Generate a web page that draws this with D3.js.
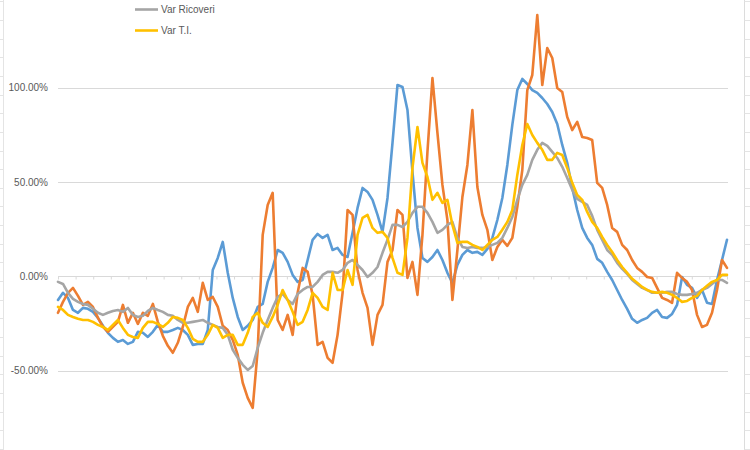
<!DOCTYPE html>
<html>
<head>
<meta charset="utf-8">
<script src="https://cdn.jsdelivr.net/npm/d3@7"></script>
<style>
  body { margin: 0; background: #fff; }
  svg { display: block; font-family: "Liberation Sans", Arial, sans-serif; }
</style>
</head>
<body>
<svg id="chart" width="750" height="450"></svg>
<script>
// values in %, one every ~2 days
const varBlu = [
  -12.5, -8.7, -11.4, -17.8, -19.3, -16.7, -17.2, -18.8, -22.0, -26.2,
  -29.9, -32.6, -34.7, -33.7, -35.8, -34.7, -29.4, -29.9, -32.1, -29.4,
  -25.7, -29.4, -29.4, -28.4, -27.3, -28.4, -31.0, -36.3, -35.8, -35.8,
  -28.4, 3.4, 9.8, 18.3, 1.9, -11.4, -21.5, -28.4, -26.2, -23.1,
  -16.2, -14.6, -2.9, 4.5, 14.0, 12.5, 7.7, 0.8, -2.9, -1.9,
  8.7, 19.4, 22.5, 20.4, 22.0, 14.0, 15.1, 11.4, 10.3, 23.1,
  36.3, 46.9, 44.8, 40.6, 32.6, 23.6, 41.6, 70.8, 101.5, 100.4,
  88.2, 55.4, 25.7, 9.8, 7.7, 10.3, 14.0, 8.7, 1.9, -3.4,
  6.1, 11.4, 14.0, 12.5, 13.0, 11.4, 14.6, 20.4, 29.9, 41.6,
  59.1, 80.3, 98.8, 104.7, 102.0, 98.8, 97.3, 94.6, 91.4, 87.2,
  80.8, 69.7, 60.2, 46.9, 35.2, 25.7, 20.4, 16.7, 9.3, 7.2,
  2.4, -1.9, -7.2, -12.5, -17.2, -22.5, -24.6, -23.1, -22.0, -19.3,
  -17.8, -21.5, -22.0, -19.9, -15.1, -0.3, -4.5, -6.1, -11.4, -7.2,
  -14.0, -14.6, -1.9, 8.7, 19.4
];
const varArancio = [
  -19.3, -13.5, -8.7, -6.1, -10.3, -15.1, -13.5, -16.2, -22.0, -26.8,
  -29.4, -26.8, -24.1, -15.1, -24.6, -19.3, -25.2, -19.3, -20.9, -14.6,
  -24.1, -31.5, -36.8, -40.5, -35.2, -26.8, -16.2, -11.4, -18.8, -3.4,
  -12.5, -10.9, -16.2, -26.2, -28.4, -33.7, -41.6, -56.4, -64.4, -69.7,
  -38.9, 22.0, 37.9, 44.3, -23.1, -28.4, -20.4, -31.0, -8.7, 4.5,
  2.4, -9.8, -36.3, -34.7, -43.2, -45.8, -31.0, -8.7, 35.2, 32.6,
  3.4, -8.7, -16.7, -36.3, -20.4, -15.1, 7.7, 14.0, 35.2, 32.6,
  -0.8, 7.7, -9.8, 22.0, 66.0, 105.2, 76.1, 48.5, 29.9, -12.5,
  14.0, 42.1, 59.1, 88.2, 47.4, 32.6, 24.7, 8.7, 15.6, 19.4,
  16.2, 20.4, 36.9, 56.4, 98.8, 106.8, 138.6, 101.5, 121.1, 115.8,
  99.9, 97.8, 84.5, 77.6, 81.9, 73.9, 73.4, 72.3, 49.6, 46.9,
  37.9, 25.7, 23.6, 16.7, 14.0, 8.7, 4.5, 2.4, -0.3, -0.8,
  -6.1, -11.4, -12.5, -14.0, 1.9, -0.8, -2.9, -7.2, -20.4, -26.8,
  -25.7, -19.3, -7.2, 8.7, 4.5
];
const varRicoveri = [
  -2.9, -4.0, -8.7, -11.9, -13.5, -14.6, -15.1, -17.2, -19.3, -20.4,
  -19.3, -18.3, -17.8, -18.8, -16.7, -20.4, -21.5, -20.9, -18.3, -16.7,
  -17.8, -18.8, -20.4, -20.9, -23.1, -24.6, -24.6, -24.1, -23.6, -23.1,
  -24.6, -25.7, -26.8, -27.3, -31.0, -38.9, -43.2, -46.9, -49.6, -47.5,
  -37.9, -29.9, -23.1, -16.7, -10.9, -9.3, -12.5, -14.6, -9.3, -7.2,
  -5.6, -5.6, -2.9, 0.8, 2.4, 2.4, 1.9, 3.4, 7.2, 8.7,
  6.1, 3.4, -0.3, 1.9, 5.0, 12.5, 19.4, 27.3, 27.3, 26.2,
  28.9, 33.7, 36.9, 36.9, 33.7, 28.9, 23.1, 24.7, 27.3, 28.9,
  20.4, 15.6, 15.1, 15.6, 15.1, 15.1, 15.6, 16.7, 17.8, 20.4,
  25.7, 31.5, 40.6, 48.5, 53.8, 61.8, 67.1, 70.8, 69.2, 66.0,
  62.8, 58.1, 52.2, 45.9, 41.1, 39.5, 37.9, 32.1, 24.7, 19.4,
  14.0, 11.4, 7.2, 4.0, 1.3, -1.9, -4.0, -6.1, -7.2, -8.7,
  -8.7, -8.7, -8.2, -8.2, -9.3, -9.8, -9.8, -9.3, -8.7, -7.2,
  -6.1, -4.0, -1.9, -1.9, -3.4
];
const varTI = [
  -16.2, -17.8, -20.4, -21.5, -22.5, -23.1, -23.1, -24.1, -25.7, -26.8,
  -28.4, -25.7, -23.1, -27.3, -31.0, -32.1, -32.6, -27.3, -24.1, -24.1,
  -25.2, -26.8, -24.6, -21.5, -22.0, -23.1, -27.3, -33.1, -34.7, -34.7,
  -31.0, -25.7, -27.3, -32.6, -31.0, -31.0, -36.3, -36.3, -29.9, -21.5,
  -19.3, -24.6, -26.8, -21.5, -15.1, -7.2, -12.5, -18.8, -25.7, -24.1,
  -17.8, -8.7, -11.4, -16.2, -17.8, 1.9, -7.2, -7.2, 3.4, -4.5,
  22.0, 31.0, 32.6, 25.7, 23.1, 23.6, 20.4, 9.8, 1.9, 0.8,
  20.4, 57.5, 79.2, 60.2, 52.7, 40.6, 44.3, 39.0, 40.6, 27.3,
  17.8, 18.3, 18.3, 16.7, 15.6, 14.0, 16.7, 19.4, 20.9, 24.7,
  28.9, 35.2, 53.8, 69.7, 80.8, 75.0, 70.8, 67.1, 61.8, 61.8,
  65.5, 64.4, 57.5, 49.6, 43.2, 40.6, 34.2, 28.9, 25.7, 20.9,
  16.7, 13.0, 8.7, 5.0, 1.9, -1.3, -3.4, -5.6, -7.2, -8.2,
  -8.7, -8.2, -8.7, -9.8, -11.4, -13.5, -13.0, -11.4, -10.3, -7.2,
  -5.0, -2.9, -1.9, 0.8, 0.8
];

const seriesNames = ["Var Casi", "Var Decessi", "Var Ricoveri", "Var T.I."];
const seriesColors = ["#5b9bd5", "#ed7d31", "#a5a5a5", "#ffc000"];
const seriesValues = [varBlu, varArancio, varRicoveri, varTI];
const yGrid = [-100, -50, 0, 50, 100, 150];
const yLabels = [-50, 0, 50, 100];   // the ones inside the visible window
const weekCount = 38; // category tick marks on the axis

const svg = d3.select("#chart");
const width = 750, height = 450;
const left = 58, right = 727;

const x = d3.scaleLinear().domain([0, varTI.length - 1]).range([left, right]);
const xWeeks = d3.scaleLinear().domain([0, weekCount]).range([left, right]);
const y = d3.scaleLinear().domain([-100, 150]).range([465, -6.5]);

// spreadsheet cells peeking out at the edges
const rows = d3.range(0, 25).map(k => 1.3 + k * 18.65);
svg.append("line")
  .attr("x1", 3.5).attr("x2", 3.5).attr("y1", 0).attr("y2", height)
  .attr("stroke", "#e4e4e4");
svg.selectAll(".rowL").data(rows).enter().append("line")
  .attr("x1", 0).attr("x2", 3.5)
  .attr("y1", d => Math.round(d) + 0.5).attr("y2", d => Math.round(d) + 0.5)
  .attr("stroke", "#e4e4e4");
svg.append("line")
  .attr("x1", 744.5).attr("x2", 744.5).attr("y1", 0).attr("y2", height)
  .attr("stroke", "#dcdcdc");
svg.selectAll(".rowR").data(rows).enter().append("line")
  .attr("x1", 744.5).attr("x2", width)
  .attr("y1", d => Math.round(d) + 0.5).attr("y2", d => Math.round(d) + 0.5)
  .attr("stroke", "#e4e4e4");

// gridlines
svg.selectAll(".grid").data(yGrid).enter().append("line")
  .attr("x1", left).attr("x2", right + 1)
  .attr("y1", d => Math.round(y(d)) + 0.5).attr("y2", d => Math.round(y(d)) + 0.5)
  .attr("stroke", "#d9d9d9").attr("stroke-width", 1);

// y labels
svg.selectAll(".ylab").data(yLabels).enter().append("text")
  .attr("x", 48).attr("y", d => y(d) + 3.5)
  .attr("text-anchor", "end")
  .attr("font-size", "10px")
  .attr("fill", "#595959")
  .text(d => d.toFixed(2) + "%");

// category axis ticks on the zero line
const xAxis = svg.append("g")
  .attr("transform", `translate(0,${Math.round(y(0)) + 0.5})`)
  .call(d3.axisBottom(xWeeks).ticks(weekCount).tickSize(3).tickFormat(""));
xAxis.select(".domain").remove();
xAxis.selectAll("line").attr("stroke", "#d9d9d9");

// series
const line = d3.line().x((d, i) => x(i)).y(d => y(d));
seriesValues.forEach((vals, s) => {
  svg.append("path")
    .datum(vals)
    .attr("d", line)
    .attr("fill", "none")
    .attr("stroke", seriesColors[s])
    .attr("stroke-width", 2.6)
    .attr("stroke-linejoin", "round")
    .attr("stroke-linecap", "round");
});

// legend (only the last two entries are visible)
const legend = [
  { name: seriesNames[2], color: seriesColors[2], y: 9.5 },
  { name: seriesNames[3], color: seriesColors[3], y: 30.5 }
];
legend.forEach(d => {
  svg.append("line")
    .attr("x1", 135).attr("x2", 158)
    .attr("y1", d.y).attr("y2", d.y)
    .attr("stroke", d.color).attr("stroke-width", 2.6);
  svg.append("text")
    .attr("x", 161).attr("y", d.y + 3.5)
    .attr("font-size", "10px")
    .attr("fill", "#595959")
    .text(d.name);
});
</script>
</body>
</html>
